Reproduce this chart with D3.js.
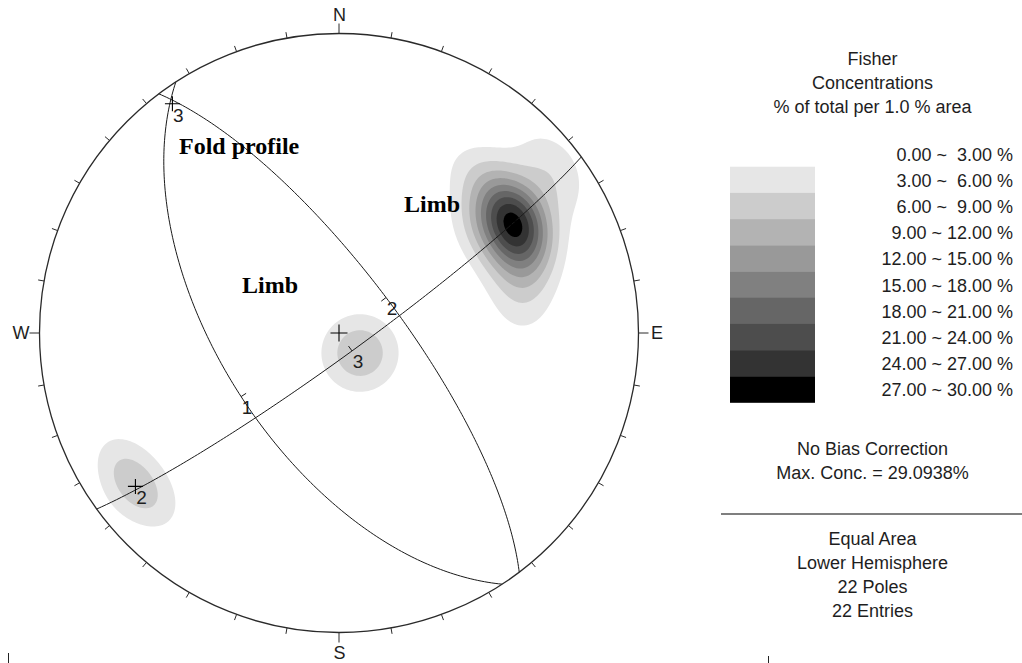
<!DOCTYPE html>
<html>
<head>
<meta charset="utf-8">
<script src="https://cdn.jsdelivr.net/npm/d3@7"></script>
<style>
  html, body { margin: 0; padding: 0; background: #fff; }
  svg { display: block; }
  text { font-family: "Liberation Sans", Arial, sans-serif; fill: #1e1e1e; }
  text.anno { font-family: "Liberation Serif", "Times New Roman", serif; font-weight: bold; fill: #000; }
</style>
</head>
<body>
<svg id="chart" width="1022" height="663"></svg>
<script>
// poles (trend / plunge in degrees)
const poleTrend = [55.3, 56.3, 56.8, 57.8, 57.6, 58.7, 59.9, 63.2, 66.8, 70.3,
                   54.1, 40.8, 50.3, 51.3, 54.9, 81.3,
                   236.7, 233.4, 230.3,
                   133.3, 125.8, 141.1]
const polePlunge = [30.4, 29.7, 31.2, 30.5, 32.5, 31.8, 32.6, 33.8, 34.9, 36.0,
                    40.0, 29.7, 29.1, 8.4, 15.8, 38.5,
                    16.0, 16.6, 16.9,
                    83.7, 81.6, 80.9]

// user planes: dip direction / dip
const planeId = [1, 2, 3]
const planeDipDir = [237, 53, 144]
const planeDip = [58, 74, 84]
// pole 1 sits in the black core, its number is not visible there
const poleLabelShown = [false, true, true]

const fisherK = 65
const levels = [3, 6, 9, 12, 15, 18, 21, 24, 27]
const levelColors = ["#e6e6e6", "#cccccc", "#b3b3b3", "#999999", "#808080",
                     "#666666", "#4d4d4d", "#333333", "#000000"]
const legendLabels = ["0.00 ~  3.00 %", "3.00 ~  6.00 %", "6.00 ~  9.00 %", "9.00 ~ 12.00 %",
                      "12.00 ~ 15.00 %", "15.00 ~ 18.00 %", "18.00 ~ 21.00 %", "21.00 ~ 24.00 %",
                      "24.00 ~ 27.00 %", "27.00 ~ 30.00 %"]
const compassLabels = ["N", "E", "S", "W"]
const titleLines = ["Fisher", "Concentrations", "% of total per 1.0 % area"]
const biasLines = ["No Bias Correction", "Max. Conc. = 29.0938%"]
const infoLines = ["Equal Area", "Lower Hemisphere", "22 Poles", "22 Entries"]

const svg = d3.select("#chart")
const cx = 339, cy = 333, R = 299.5
const rad = Math.PI / 180

// unit net -> pixels
const sx = d3.scaleLinear().domain([-1, 1]).range([cx - R, cx + R])
const sy = d3.scaleLinear().domain([-1, 1]).range([cy + R, cy - R])

// [east, north, down]
function vec(trend, plunge) {
  const t = trend * rad, p = plunge * rad
  return [Math.cos(p) * Math.sin(t), Math.cos(p) * Math.cos(t), Math.sin(p)]
}

// equal area, lower hemisphere
function project(v) {
  let [e, n, d] = v
  if (d < 0) { e = -e; n = -n; d = -d }
  const h = Math.hypot(e, n)
  if (h < 1e-9) return [sx(0), sy(0)]
  const r = Math.SQRT2 * Math.sin(Math.acos(Math.min(1, d)) / 2)
  return [sx(r * e / h), sy(r * n / h)]
}

// ---- Fisher density grid
const poles = poleTrend.map((t, i) => vec(t, polePlunge[i]))
const step = 2
const x0 = cx - R - 4, y0 = cy - R - 4
const n = Math.ceil((2 * R + 8) / step)
const values = new Float64Array(n * n)
for (let j = 0; j < n; j++) {
  for (let i = 0; i < n; i++) {
    let u = sx.invert(x0 + (i + 0.5) * step)
    let w = sy.invert(y0 + (j + 0.5) * step)
    let r = Math.hypot(u, w)
    if (r > 1) { u /= r; w /= r; r = 1 }
    const phi = 2 * Math.asin(r / Math.SQRT2)
    const s = Math.sin(phi)
    const g = r > 0 ? [s * u / r, s * w / r, Math.cos(phi)] : [0, 0, 1]
    let sum = 0
    for (const p of poles) {
      const c = Math.abs(g[0] * p[0] + g[1] * p[1] + g[2] * p[2])
      sum += Math.exp(fisherK * (c - 1))
    }
    // % of total per 1 % area
    values[j * n + i] = sum * fisherK / poles.length
  }
}
console.log("max conc", d3.max(values))

svg.append("clipPath").attr("id", "net")
  .append("circle").attr("cx", cx).attr("cy", cy).attr("r", R)

const contours = d3.contours().size([n, n]).thresholds(levels)(values)
const gridPath = d3.geoPath(d3.geoIdentity().scale(step).translate([x0, y0]))

svg.append("g")
  .attr("clip-path", "url(#net)")
  .selectAll("path")
  .data(contours)
  .join("path")
    .attr("d", gridPath)
    .attr("fill", (d, i) => levelColors[i])

// ---- great circles
const line = d3.line()
const planes = planeId.map((id, i) => {
  const dd = planeDipDir[i], dip = planeDip[i]
  const s = vec(dd - 90, 0), dv = vec(dd, dip)
  const pts = d3.range(0, 180.5, 1).map(a => {
    const c = Math.cos(a * rad), sn = Math.sin(a * rad)
    return project([c * s[0] + sn * dv[0], c * s[1] + sn * dv[1], c * s[2] + sn * dv[2]])
  })
  return {id, dd, dip, pts, mid: project(dv), pole: project(vec(dd + 180, 90 - dip)), showLabel: poleLabelShown[i]}
})

const gc = svg.append("g")
gc.selectAll("path.gc")
  .data(planes)
  .join("path")
    .attr("class", "gc")
    .attr("d", d => line(d.pts))
    .attr("fill", "none")
    .attr("stroke", "#1a1a1a")
    .attr("stroke-width", 1)

// little tick at the dip vector, pointing to the pole side
gc.selectAll("line.mid")
  .data(planes)
  .join("line")
    .attr("class", "mid")
    .attr("x1", d => d.mid[0])
    .attr("y1", d => d.mid[1])
    .attr("x2", d => d.mid[0] + 6 * Math.sin((d.dd + 180) * rad))
    .attr("y2", d => d.mid[1] - 6 * Math.cos((d.dd + 180) * rad))
    .attr("stroke", "#1a1a1a")

gc.selectAll("text.mid")
  .data(planes)
  .join("text")
    .attr("class", "mid")
    .attr("x", d => d.mid[0] + 6)
    .attr("y", d => d.mid[1] + 17)
    .attr("text-anchor", "middle")
    .attr("font-size", 19)
    .text(d => d.id)

// ---- primitive, ticks, compass
svg.append("circle")
  .attr("cx", cx).attr("cy", cy).attr("r", R)
  .attr("fill", "none")
  .attr("stroke", "#2a2a2a")
  .attr("stroke-width", 1.3)

svg.append("g")
  .selectAll("line")
  .data(d3.range(0, 360, 10))
  .join("line")
    .attr("x1", a => sx(Math.sin(a * rad)))
    .attr("y1", a => sy(Math.cos(a * rad)))
    .attr("x2", a => sx(Math.sin(a * rad) * (1 + (a % 90 ? 6 : 10) / R)))
    .attr("y2", a => sy(Math.cos(a * rad) * (1 + (a % 90 ? 6 : 10) / R)))
    .attr("stroke", "#2a2a2a")
    .attr("stroke-width", 1)

const compassPos = [[cx + 0.5, 20.7, "middle"], [651, 339.3, "start"], [cx + 0.5, 659, "middle"], [29.5, 339.3, "end"]]
svg.append("g")
  .selectAll("text")
  .data(compassLabels)
  .join("text")
    .attr("x", (d, i) => compassPos[i][0])
    .attr("y", (d, i) => compassPos[i][1])
    .attr("text-anchor", (d, i) => compassPos[i][2])
    .attr("font-size", 18)
    .text(d => d)

// ---- crosses: centre + poles of the planes
const cross = (g, p, s) => g.append("path")
  .attr("d", `M${p[0] - s},${p[1]}H${p[0] + s}M${p[0]},${p[1] - s}V${p[1] + s}`)
  .attr("stroke", "#000")
  .attr("stroke-width", 1.1)
const cg = svg.append("g")
cross(cg, [sx(0), sy(0)], 8.5)
planes.forEach(d => {
  cross(cg, d.pole, 7.5)
  if (!d.showLabel) return
  cg.append("text")
    .attr("x", d.pole[0] + 6)
    .attr("y", d.pole[1] + 18)
    .attr("text-anchor", "middle")
    .attr("font-size", 19)
    .text(d.id)
})

// ---- annotations
const anno = svg.append("g")
anno.append("text").attr("class", "anno").attr("x", 179).attr("y", 154).attr("font-size", 24).text("Fold profile")
anno.append("text").attr("class", "anno").attr("x", 404).attr("y", 212).attr("font-size", 24).text("Limb")
anno.append("text").attr("class", "anno").attr("x", 242).attr("y", 293).attr("font-size", 24).text("Limb")

// ---- legend
const lg = svg.append("g")
const lx = 872.5
lg.selectAll("text.title")
  .data(titleLines)
  .join("text")
    .attr("class", "title")
    .attr("x", lx)
    .attr("y", (d, i) => 65 + i * 24)
    .attr("text-anchor", "middle")
    .attr("font-size", 18)
    .text(d => d)

const bandH = 26.2
lg.selectAll("rect")
  .data(levels)
  .join("rect")
    .attr("x", 730)
    .attr("y", (d, i) => 166.7 + i * bandH)
    .attr("width", 85)
    .attr("height", bandH + 0.3)
    .attr("fill", (d, i) => levelColors[i])

lg.selectAll("text.row")
  .data(legendLabels)
  .join("text")
    .attr("class", "row")
    .attr("x", 1013)
    .attr("y", (d, i) => 161 + i * 26.1)
    .attr("text-anchor", "end")
    .attr("font-size", 18)
    .style("white-space", "pre")
    .text(d => d)

lg.selectAll("text.bias")
  .data(biasLines)
  .join("text")
    .attr("class", "bias")
    .attr("x", lx)
    .attr("y", (d, i) => 455 + i * 24)
    .attr("text-anchor", "middle")
    .attr("font-size", 18)
    .text(d => d)

lg.append("line")
  .attr("x1", 721).attr("x2", 1022)
  .attr("y1", 514).attr("y2", 514)
  .attr("stroke", "#555")
  .attr("stroke-width", 1.6)

lg.selectAll("text.info")
  .data(infoLines)
  .join("text")
    .attr("class", "info")
    .attr("x", lx)
    .attr("y", (d, i) => 545 + i * 24)
    .attr("text-anchor", "middle")
    .attr("font-size", 18)
    .text(d => d)

// scraps of the page below the figure
svg.append("path")
  .attr("d", "M8.5,653V663M768.5,656V663")
  .attr("stroke", "#222")
</script>
</body>
</html>
